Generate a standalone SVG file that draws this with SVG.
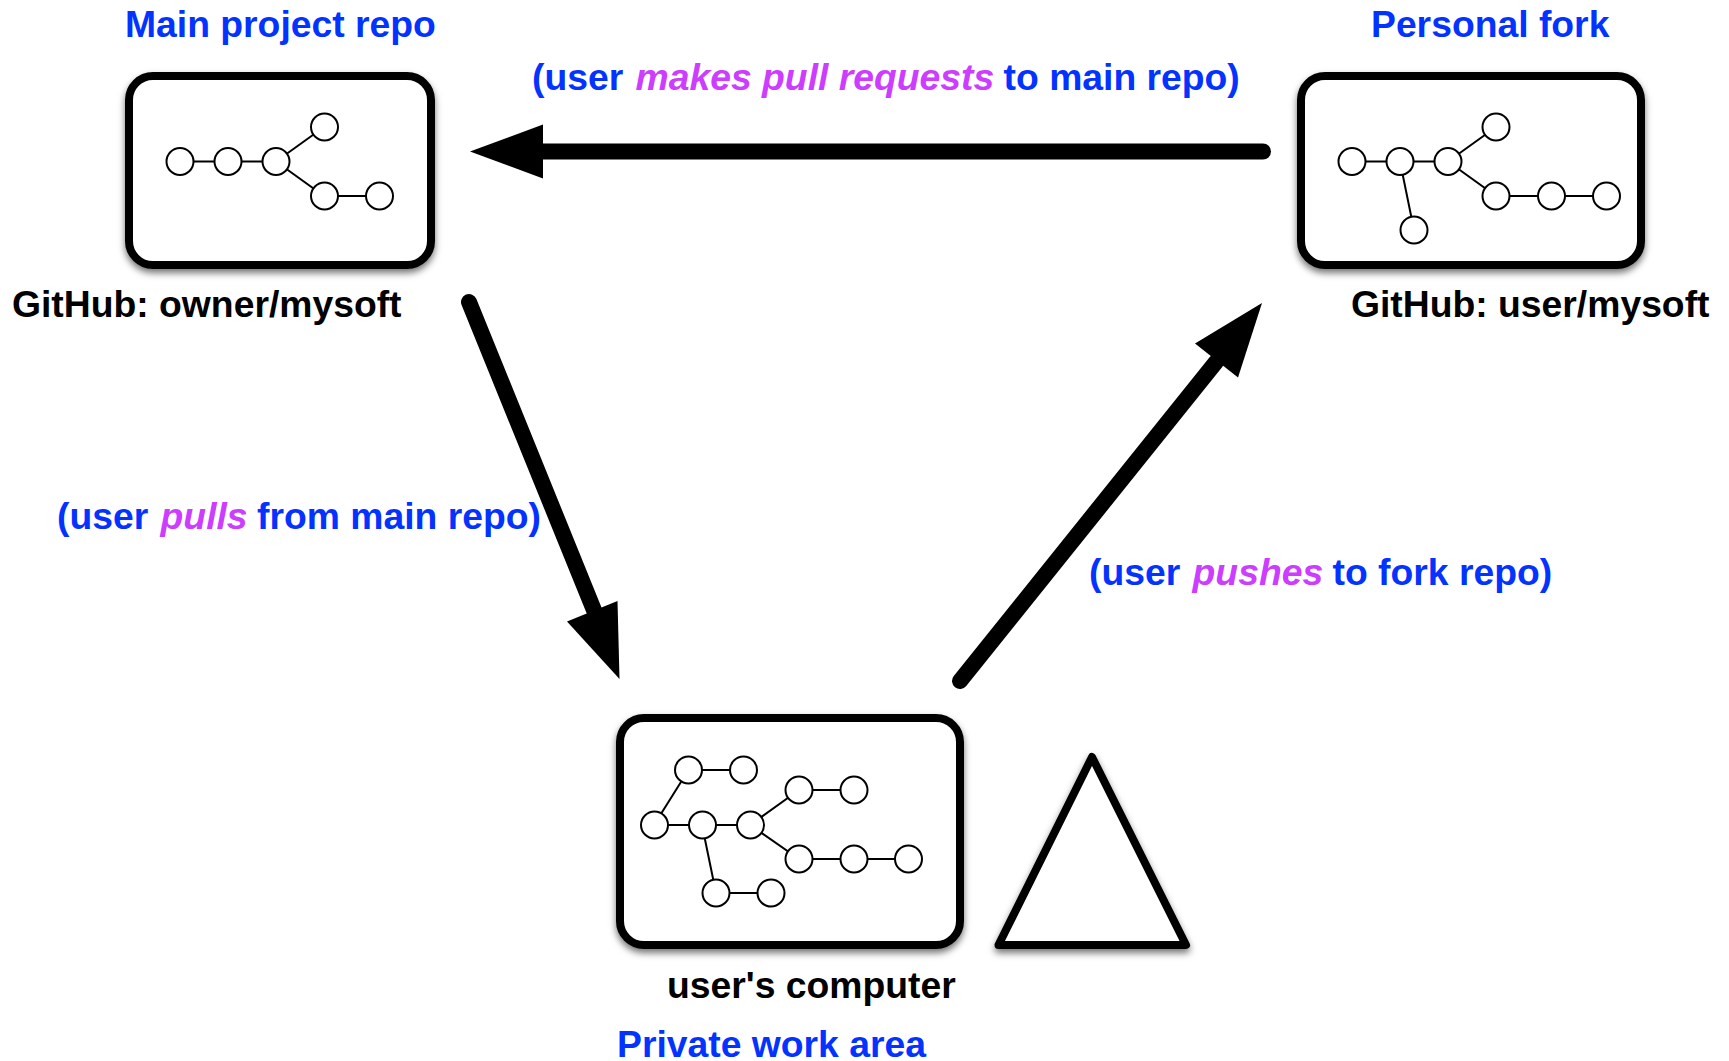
<svg xmlns="http://www.w3.org/2000/svg" width="1729" height="1061" viewBox="0 0 1729 1061">
<defs>
<filter id="sh" x="-10%" y="-10%" width="120%" height="125%"><feDropShadow dx="0" dy="4" stdDeviation="3.5" flood-color="#000" flood-opacity="0.55"/></filter>
</defs>
<style>
.box{fill:#fff;stroke:#000;stroke-width:8;filter:url(#sh)}
.tri{fill:#fff;stroke:#000;stroke-width:8;stroke-linejoin:round;filter:url(#sh)}
.e{stroke:#000;stroke-width:2;fill:none}
.c{fill:#fff;stroke:#000;stroke-width:2}
.t{font-family:"Liberation Sans",Arial,sans-serif;font-weight:700;font-size:37.3px}
.b{fill:#0433ff}
.k{fill:#000}
.m{fill:#cc3dff;font-style:italic}
.a{stroke:#000;stroke-width:16;stroke-linecap:round;fill:none}
</style>
<rect width="1729" height="1061" fill="#fff"/>
<g id="connectors">
<line class="a" x1="1263" y1="151.500" x2="540" y2="151.500"/><polygon points="470,151.500 543,124.500 543,178.500"/>
<line class="a" x1="469" y1="302" x2="600" y2="625"/><polygon points="619.500,679 617.500,601 567,621.500"/>
<line class="a" x1="960" y1="681" x2="1216" y2="362"/><polygon points="1262,303 1195,343.500 1238,377.500"/>
</g>
<g id="main-repo">
<rect class="box" x="129" y="76" width="302" height="189" rx="24"/>
<path class="e" d="M180 161.500H276M276 161.500L324 127M276 161.500L324 196H380"/>
<circle class="c" cx="180" cy="161.500" r="13.5"/><circle class="c" cx="228" cy="161.500" r="13.5"/><circle class="c" cx="276" cy="161.500" r="13.5"/><circle class="c" cx="324.500" cy="127" r="13.5"/><circle class="c" cx="324.500" cy="196" r="13.5"/><circle class="c" cx="379.500" cy="196" r="13.5"/>
</g>
<g id="personal-fork">
<rect class="box" x="1301" y="76" width="340" height="189" rx="24"/>
<path class="e" d="M1352 161.500H1448M1448 161.500L1496 127M1448 161.500L1496 196H1606M1400 161.500L1414 230"/>
<circle class="c" cx="1352" cy="161.500" r="13.5"/><circle class="c" cx="1400" cy="161.500" r="13.5"/><circle class="c" cx="1448" cy="161.500" r="13.5"/><circle class="c" cx="1496" cy="127" r="13.5"/><circle class="c" cx="1496" cy="196" r="13.5"/><circle class="c" cx="1551.500" cy="196" r="13.5"/><circle class="c" cx="1606.500" cy="196" r="13.5"/><circle class="c" cx="1414" cy="230" r="13.5"/>
</g>
<g id="computer">
<rect class="box" x="620" y="718" width="340" height="227" rx="24"/>
<path class="e" d="M654 825H750M750 825L799 790H854M750 825L799 859H909M654 825L688.500 770H744M702 825L716 893H771"/>
<circle class="c" cx="688.500" cy="770" r="13.500"/><circle class="c" cx="743.500" cy="770" r="13.500"/><circle class="c" cx="799" cy="790" r="13.500"/><circle class="c" cx="854" cy="790" r="13.500"/><circle class="c" cx="654.500" cy="825" r="13.500"/><circle class="c" cx="702.500" cy="825" r="13.500"/><circle class="c" cx="750.500" cy="825" r="13.500"/><circle class="c" cx="799" cy="859" r="13.500"/><circle class="c" cx="854" cy="859" r="13.500"/><circle class="c" cx="908.500" cy="859" r="13.500"/><circle class="c" cx="716" cy="893" r="13.500"/><circle class="c" cx="771" cy="893" r="13.500"/>
</g>
<g id="triangle"><polygon class="tri" points="1092,757 1186,945 998.500,945"/></g>
<g id="labels">
<text class="t b" x="125" y="37">Main project repo</text>
<text class="t b" x="1371" y="37">Personal fork</text>
<text class="t k" x="12" y="317">GitHub: owner/mysoft</text>
<text class="t k" x="1351" y="317">GitHub: user/mysoft</text>
<text class="t k" x="667" y="998">user's computer</text>
<text class="t b" x="617" y="1057">Private work area</text>
<text class="t b" x="532" y="90">(user <tspan class="m" dx="2">makes pull requests</tspan><tspan dx="-1"> to main repo)</tspan></text>
<text class="t b" x="57" y="529">(user <tspan class="m" dx="2">pulls</tspan><tspan dx="-1"> from main repo)</tspan></text>
<text class="t b" x="1089" y="585">(user <tspan class="m" dx="2">pushes</tspan><tspan dx="-1"> to fork repo)</tspan></text>
</g>
</svg>
